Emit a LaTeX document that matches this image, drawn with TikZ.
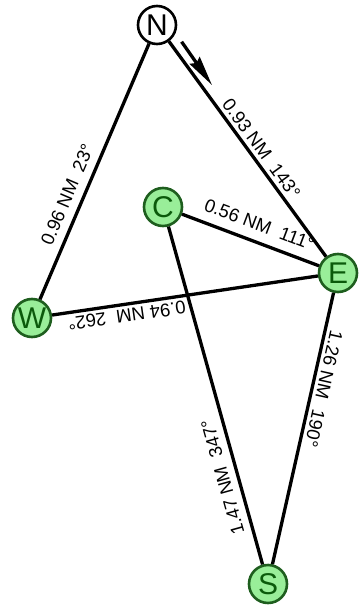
\documentclass[tikz,border=0pt]{standalone}
\usepackage{fontspec}
\setmainfont{Liberation Sans}
\usetikzlibrary{calc,arrows.meta}
\definecolor{markfill}{HTML}{99EE99}
\definecolor{markline}{HTML}{1E5E1E}
\definecolor{marktext}{HTML}{0B5A0B}
\begin{document}
\begin{tikzpicture}[x=1pt,y=-1pt,
  buoy/.style={circle,minimum size=38pt,inner sep=0pt,line width=2.6pt,
    font=\fontsize{30}{32}\selectfont},
  greenbuoy/.style={buoy,draw=markline,fill=markfill,text=marktext},
  startbuoy/.style={buoy,draw=black,fill=white,text=black},
  leg/.style={line width=3.3pt,black},
  leglabel/.style={sloped,allow upside down,font=\fontsize{18.5}{20}\selectfont,black},
  dirarrow/.style={line width=3.3pt,-{Stealth[length=30pt,width=12pt,inset=3pt]}}]
\useasboundingbox (0,0) rectangle (361,609);
\node[startbuoy] (N) at (157,25) {N};
\node[greenbuoy] (C) at (163,207) {C};
\node[greenbuoy] (E) at (338,273) {E};
\node[greenbuoy] (W) at (32,318) {W};
\node[greenbuoy] (S) at (268,584) {S};
\draw[leg] (N) -- node[leglabel,above,pos=0.53] {0.93 NM\ \ 143°} (E);
\draw[leg] (W) -- node[leglabel,above=4.5pt,pos=0.385] {0.96 NM\ \ 23°} (N);
\draw[leg] (C) -- node[leglabel,above=6pt,pos=0.52] {0.56 NM\ \ 111°} (E);
\draw[leg] (E) -- node[leglabel,above,pos=0.725] {0.94 NM\ \ 262°} (W);
\draw[leg] (E) -- node[leglabel,above,pos=0.345] {1.26 NM\ \ 190°} (S);
\draw[leg] (S) -- node[leglabel,above=3.5pt,pos=0.27] {1.47 NM\ \ 347°} (C);
\coordinate (a0) at ($(N)!28pt!(E)$);
\coordinate (a1) at ($(N)!81pt!(E)$);
\coordinate (t0) at ($(a0)!10pt!90:(E)$);
\coordinate (t1) at ($(a1)!9pt!-90:(N)$);
\draw[dirarrow] (t0) -- (t1);
\end{tikzpicture}
\end{document}
